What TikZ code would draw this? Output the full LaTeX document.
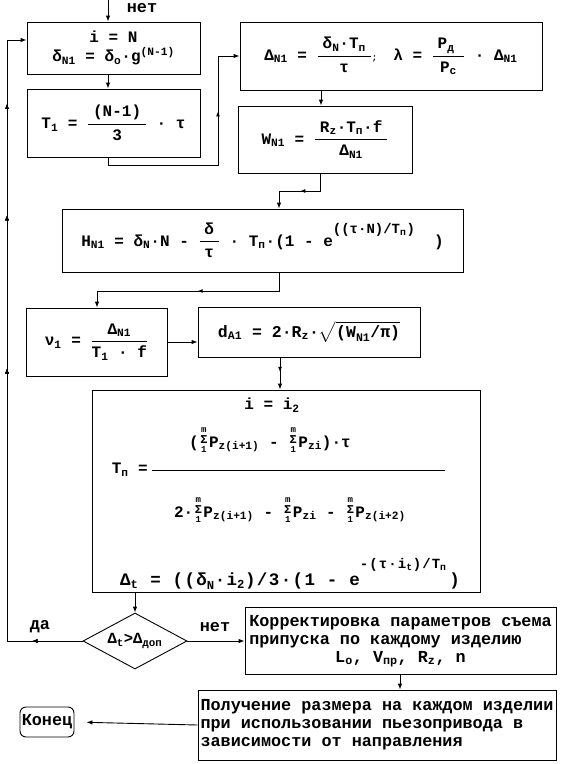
\documentclass[tikz,border=0pt]{standalone}
\usepackage{amsmath}
\usepackage{fontspec}
\setmainfont{Liberation Mono}
\usetikzlibrary{shapes.geometric,arrows.meta,decorations.markings}
\newcommand\T[1]{\text{#1}}
\newcommand\fs{\fontsize{16}{19}\selectfont\bfseries}
\newcommand\cs{\fontsize{16.8}{18}\selectfont\bfseries}
\newcommand\Sm{\hspace{1.5pt}\raisebox{-5pt}{\fontsize{9}{9.5}\selectfont\shortstack{m\\{\fontsize{12}{9.5}\selectfont Σ}\\1}}\hspace{1.5pt}}
\newcommand\hi[2]{\raisebox{#1}{\fontsize{14}{14}\selectfont #2}}
\begin{document}
\begin{tikzpicture}[x=1pt,y=-1pt,
  box/.style={draw, line width=0.9pt, inner sep=2pt, font=\fs},
  tbox/.style={draw, line width=0.9pt, inner sep=2pt, font=\cs},
  lbl/.style={font=\cs, inner sep=0pt},
  ftx/.style={font=\fs, inner sep=0pt},
  ln/.style={line width=0.9pt},
  arr/.style={line width=0.9pt, -{Latex[length=6pt,width=4.5pt]}},
  midarr/.style={postaction={decorate}, decoration={markings, mark=at position #1 with {\arrow{Latex[length=5pt,width=4pt]}}}}
]
\useasboundingbox (0,0) rectangle (566,764);

% boxes
\node[box, minimum width=173pt, minimum height=52pt, align=center] (b1) at (113.5,48)
  {i = N\\[0pt]$\T{δ}_{\T{N1}}\T{ = δ}_{\T{o}}\T{·g}^{\T{(N-1)}}$};
\node[box, minimum width=173pt, minimum height=68pt] (b2) at (113.5,123)
  {$\T{T}_{\T{1}}\T{ = }\dfrac{\;\T{(N-1)}\;}{\T{3}}\T{ · τ}$};
\node[box, minimum width=302pt, minimum height=68pt] (b3) at (391,56)
  {$\T{Δ}_{\T{N1}}\T{ = }\dfrac{\;\T{δ}_{\T{N}}\T{·T}_{\T{п}}\;}{\T{τ}}\T{\fontsize{9}{9}\selectfont ;}\quad\T{λ = }\dfrac{\;\T{P}_{\T{д}}\;\;}{\T{P}_{\T{c}}}\T{ · Δ}_{\T{N1}}$};
\node[box, minimum width=174pt, minimum height=67pt] (b4) at (325,139.5)
  {$\T{W}_{\T{N1}}\T{ = }\dfrac{\;\T{R}_{\T{z}}\T{·T}_{\T{п}}\T{·f}\;}{\T{Δ}_{\T{N1}}}$};
\node[box, minimum width=401pt, minimum height=63pt] (bH) at (262.5,240.5)
  {$\T{H}_{\T{N1}}\T{ = δ}_{\T{N}}\T{·N - }\dfrac{\;\T{δ}\;}{\T{τ}}\T{ · T}_{\T{п}}\T{·(1 - e}$\hi{13pt}{((τ·N)/T$_{\T{п}}$)}\ \ )};
\node[box, minimum width=141pt, minimum height=68pt] (bnu) at (96.5,342)
  {$\T{ν}_{\T{1}}\T{ = }\dfrac{\;\T{Δ}_{\T{N1}}\;}{\T{T}_{\T{1}}\T{ · f}}$};
\node[box, minimum width=222pt, minimum height=50pt, font=\fontsize{16.5}{19}\selectfont\bfseries] (bdA) at (309,332)
  {$\T{d}_{\T{A1}}\T{ = 2·R}_{\T{z}}\T{·}\sqrt{\T{(W}_{\T{N1}}\T{/π)}}$};
\node[box, minimum width=388pt, minimum height=202pt] (big) at (286,491) {};
\node[ftx] (bi) at (272,405) {$\T{i = i}_{\T{2}}$};
\node[ftx] (bnum) at (270,440) {(\Sm P$_{\T{z(i+1)}}$ - \Sm P$_{\T{zi}}$)·τ};
\node[ftx, anchor=east] (bT) at (148,470) {$\T{T}_{\T{п}}\T{ =}$};
\draw[ln] (bT.east) ++(4,0) coordinate (fb1) -- (445,470) coordinate (fb2);
\node[ftx] (bden) at (290,510) {2·\Sm P$_{\T{z(i+1)}}$ - \Sm P$_{\T{zi}}$ - \Sm P$_{\T{z(i+2)}}$};
\node[ftx, font=\fontsize{17.5}{19}\selectfont\bfseries\addfontfeature{LetterSpace=8}] (bdt) at (290,574) {$\T{Δ}_{\T{t}}\T{ = ((δ}_{\T{N}}\T{·i}_{\T{2}}\T{)/3·(1 - e}$\hi{17pt}{-(τ·i$_{\T{t}}$)/T$_{\T{п}}$}\,)};

\node[draw, diamond, line width=0.9pt, minimum width=104pt, minimum height=56pt, inner sep=0pt] (dia) at (135,641) {};
\node[ftx, font=\fontsize{15.5}{15}\selectfont\bfseries] at (dia) {$\T{Δ}_{\T{t}}\T{>Δ}_{\T{доп}}$};

\node[tbox, minimum width=311pt, minimum height=67pt] (korr) at (400.5,640.5)
  {\begin{tabular}{@{}l@{}}Корректировка параметров съема\\ припуска по каждому изделию\\ \multicolumn{1}{@{}c@{}}{L$_{\text{o}}$, V$_{\text{пр}}$, R$_{\text{z}}$, n}\end{tabular}};
\node[tbox, minimum width=358pt, minimum height=70pt] (pol) at (377,725)
  {\begin{tabular}{@{}l@{}}Получение размера на каждом изделии\\ при использовании пьезопривода в\\ зависимости от направления\end{tabular}};
\node[tbox, rounded corners=6pt, minimum width=54pt, minimum height=30pt, inner sep=1pt] (kon) at (47,722) {Конец};

% connectors
\coordinate (top) at (108,0);
\node[lbl] (net1) at (142,8) {нет};
\draw[arr] (top) -- (top |- b1.north);
\draw[arr] (b1.south -| top) -- (b2.north -| top);
\coordinate (c1) at (108,165);
\coordinate (c2) at (218,165);
\coordinate (c3) at (218,56);
\draw[arr, midarr=0.69] (b2.south -| top) -- (c1) -- (c2) -- (c3) -- (c3 -| b3.west);
\coordinate (x321) at (321,0);
\draw[arr] (b3.south -| x321) -- (b4.north -| x321);
\coordinate (d1) at (320,191);
\coordinate (d2) at (279,191);
\draw[arr, midarr=0.49] (b4.south -| d1) -- (d1) -- (d2) -- (d2 |- bH.north);
\coordinate (e1) at (279,291);
\coordinate (e2) at (97,291);
\draw[arr, midarr=0.46] (bH.south -| e1) -- (e1) -- (e2) -- (e2 |- bnu.north);
\draw[arr] (bnu.east) -- (bnu.east -| bdA.west);
\coordinate (x280) at (280,0);
\draw[arr, midarr=0.45] (bdA.south -| x280) -- (big.north -| x280);
\draw[arr] (big.south -| dia) -- (dia.north);
\coordinate (l1) at (7,641);
\coordinate (l2) at (7,40);
\draw[arr, midarr=0.072, midarr=0.5, midarr=0.72, midarr=0.88] (dia.west) -- (l1) -- (l2) -- (l2 -| b1.west);
\node[lbl] (da) at (40,627) {да};
\node[lbl] (net2) at (215,627) {нет};
\draw[arr] (dia.east) -- (dia.east -| korr.west);
\coordinate (x400) at (400,0);
\draw[arr] (korr.south -| x400) -- (pol.north -| x400);
\draw[arr, shorten >=12pt] (pol.west) -- (kon.east);
\end{tikzpicture}
\end{document}
